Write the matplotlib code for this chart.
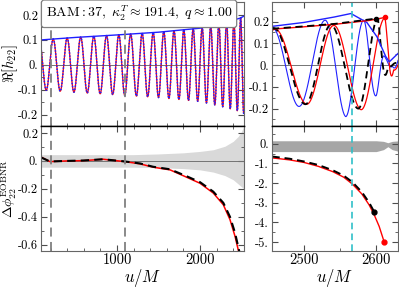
import numpy as np
import matplotlib
matplotlib.use("Agg")
import matplotlib.pyplot as plt
from matplotlib.ticker import FixedLocator, FixedFormatter

plt.rcParams['mathtext.fontset'] = 'cm'
plt.rcParams['font.family'] = ['cmr10', 'DejaVu Serif']
plt.rcParams['axes.unicode_minus'] = False
plt.rcParams['axes.formatter.use_mathtext'] = True

# ---------------- data ----------------
# left top: waveform peak times and amplitude envelope
left_peaks_u = [64, 232, 400, 563, 721, 874, 1022, 1165, 1303, 1436, 1564, 1687,
                1805, 1918, 2026, 2129, 2227, 2320, 2408, 2490, 2562]
left_env_u = [85, 500, 1000, 1500, 2000, 2240, 2360, 2480, 2535]
left_env_a = [0.100, 0.110, 0.120, 0.131, 0.147, 0.165, 0.176, 0.187, 0.196]

# left bottom: phase difference (red, black dashed) and error band
dphi_u = [85, 193, 400, 594, 835, 1096, 1277, 1437, 1639, 1840, 2000, 2160, 2281, 2361, 2422, 2470]
dphi_red = [0.028, -0.005, 0.000, 0.002, 0.012, -0.005, -0.021, -0.045, -0.064, -0.117,
            -0.160, -0.230, -0.314, -0.420, -0.540, -0.660]
dphi_blk_u = [85, 193, 400, 594, 835, 1096, 1277, 1437, 1639, 1840, 2000, 2160, 2281, 2361, 2422, 2478]
dphi_blk = [0.025, -0.004, 0.000, 0.003, 0.012, -0.004, -0.018, -0.042, -0.060, -0.110,
            -0.152, -0.220, -0.300, -0.400, -0.515, -0.660]
band_u = [85, 1200, 1500, 1800, 2000, 2160, 2300, 2400, 2460, 2500, 2535]
band_hi = [0.045, 0.045, 0.050, 0.058, 0.068, 0.080, 0.105, 0.140, 0.175, 0.210, 0.260]
band_lo = [-0.045, -0.045, -0.048, -0.055, -0.064, -0.080, -0.105, -0.135, -0.165, -0.185, -0.205]
fit_window = [200, 1100]

# right top: extrema (times, signed values) and envelopes
red_ext_u = [2418, 2460, 2504, 2541, 2579, 2612, 2624, 2636]
red_ext_v = [-0.16, 0.165, -0.180, 0.182, -0.205, 0.217, -0.022, 0.040]
blk_ext_u = [2416, 2458, 2502, 2537, 2575, 2602, 2616, 2628]
blk_ext_v = [-0.16, 0.170, -0.180, 0.185, -0.200, 0.214, -0.015, 0.010]
blu_ext_u = [2420, 2456, 2493, 2529, 2558, 2583, 2600, 2613, 2622, 2634]
blu_ext_v = [-0.17, 0.172, -0.190, 0.206, -0.237, 0.206, -0.140, 0.030, -0.005, 0.060]
red_env_u = [2456, 2500, 2544, 2590, 2612]
red_env_v = [0.165, 0.176, 0.188, 0.205, 0.219]
blk_env_u = [2456, 2500, 2544, 2600]
blk_env_v = [0.167, 0.178, 0.190, 0.214]
blu_env_u = [2456, 2500, 2542, 2565, 2587, 2601, 2613, 2618, 2632]
blu_env_v = [0.178, 0.196, 0.221, 0.237, 0.196, 0.130, 0.040, 0.015, 0.060]

# right bottom: phase difference near merger
rb_red_u = [2456, 2480, 2500, 2520, 2540, 2555, 2567, 2580, 2590, 2597, 2604, 2611]
rb_red_v = [-0.72, -0.82, -0.95, -1.15, -1.42, -1.70, -2.05, -2.55, -3.10, -3.60, -4.20, -5.00]
rb_blk_u = [2456, 2480, 2500, 2520, 2540, 2555, 2567, 2580, 2590, 2597]
rb_blk_v = [-0.65, -0.76, -0.90, -1.08, -1.35, -1.62, -1.95, -2.45, -2.98, -3.45]
rb_band_u = [2456, 2500, 2550, 2600, 2610, 2616, 2622, 2632]
rb_band_hi = [0.15, 0.15, 0.15, 0.15, 0.12, 0.05, 0.12, 0.15]
rb_band_lo = [-0.40, -0.40, -0.40, -0.40, -0.30, -0.15, -0.30, -0.40]
merger_line_u = 2567

# ---------------- figure ----------------
W, H = 399, 288
fig = plt.figure(figsize=(W / 100, H / 100), dpi=100)

def rect(x0, y0, x1, y1):
    return [x0 / W, 1 - y1 / H, (x1 - x0) / W, (y1 - y0) / H]

axLT = fig.add_axes(rect(41, 2, 244, 126))
axLB = fig.add_axes(rect(41, 126, 244, 251))
axRT = fig.add_axes(rect(272, 2, 398, 126))
axRB = fig.add_axes(rect(272, 126, 398, 251))

GRAYLINE = '0.45'

def wave_from_peaks(u, peaks, env_u, env_a):
    k = np.arange(len(peaks))
    ph = np.interp(u, peaks, 2 * np.pi * k)
    return np.interp(u, env_u, env_a) * np.cos(ph)

def wave_from_ext(u, ext_u, ext_v):
    k = np.arange(len(ext_u))
    ph = np.interp(u, ext_u, np.pi * k)
    amp = np.interp(u, ext_u, np.abs(ext_v))
    sign = np.sign(ext_v[0])
    return sign * amp * np.cos(ph)

# left top
u = np.linspace(85, 2535, 4000)
h = wave_from_peaks(u, left_peaks_u, left_env_u, left_env_a)
axLT.axhline(0, color=GRAYLINE, lw=0.7)
axLT.plot(u, h, color='red', lw=0.9)
axLT.plot(u, h, color='#2020ff', lw=1.1, ls=(0, (1, 1)))
axLT.plot(left_env_u, left_env_a, color='#2020ff', lw=1.0)
axLT.set_xlim(85, 2530)
axLT.set_ylim(-0.245, 0.252)
axLT.text(0.483, 0.905, r'$\mathrm{BAM:37},\ \kappa_2^T\approx 191.4,\ q\approx 1.00$',
          transform=axLT.transAxes, ha='center', va='center', fontsize=10,
          bbox=dict(boxstyle='round,pad=0.3,rounding_size=0.2', fc='white', ec='0.5', lw=0.9),
          zorder=5)

# left bottom
axLB.fill_between(band_u, band_lo, band_hi, color='0.85', lw=0)
axLB.axhline(0, color=GRAYLINE, lw=0.7)
axLB.plot(dphi_u, dphi_red, color='red', lw=1.1)
axLB.plot(dphi_blk_u, dphi_blk, color='black', lw=1.5, ls=(0, (4, 2.5)))
axLB.set_xlim(85, 2530)
axLB.set_ylim(-0.645, 0.25)

for ax in (axLT, axLB):
    for xv in fit_window:
        ax.axvline(xv, color='0.5', lw=1.3, ls=(0, (5, 3)))

# right top
ur = np.linspace(2440, 2640, 3000)
axRT.axhline(0, color=GRAYLINE, lw=0.7)
axRT.plot(ur, wave_from_ext(ur, blu_ext_u, blu_ext_v), color='#2020ff', lw=0.8)
axRT.plot(ur, wave_from_ext(ur, red_ext_u, red_ext_v), color='red', lw=0.9)
axRT.plot(ur, wave_from_ext(ur, blk_ext_u, blk_ext_v), color='black', lw=1.3, ls=(0, (4, 2.5)))
axRT.plot(blu_env_u, blu_env_v, color='#2020ff', lw=1.0)
axRT.plot(red_env_u, red_env_v, color='red', lw=1.0)
axRT.plot(blk_env_u, blk_env_v, color='black', lw=1.3, ls=(0, (4, 2.5)))
axRT.plot(red_env_u[-1], red_env_v[-1], 'o', color='red', ms=3)
axRT.plot(blk_env_u[-1], blk_env_v[-1], 'o', color='black', ms=3)
axRT.set_xlim(2456, 2630)
axRT.set_ylim(-0.28, 0.29)

# right bottom
axRB.fill_between(rb_band_u, rb_band_lo, rb_band_hi, color='0.65', lw=0)
axRB.plot(rb_red_u, rb_red_v, color='red', lw=1.0)
axRB.plot(rb_blk_u, rb_blk_v, color='black', lw=1.4, ls=(0, (4, 2.5)))
axRB.plot(rb_red_u[-1], rb_red_v[-1], 'o', color='red', ms=3.5)
axRB.plot(rb_blk_u[-1], rb_blk_v[-1], 'o', color='black', ms=3.5)
axRB.set_xlim(2456, 2630)
axRB.set_ylim(-5.45, 0.9)

for ax in (axRT, axRB):
    ax.axvline(merger_line_u, color='#30c0c8', lw=1.2, ls=(0, (4, 2.5)))

# ---------------- ticks / frames ----------------
def fmt(v, nd):
    if abs(v) < 1e-12:
        return '0.'
    if nd == 0:
        return f'{v:.0f}.'
    return f'{v:.{nd}f}'

def style(ax, yt, nd, xmaj, xmin, ymin, xlabels):
    ax.yaxis.set_major_locator(FixedLocator(yt))
    ax.yaxis.set_major_formatter(FixedFormatter([fmt(v, nd) for v in yt]))
    ax.yaxis.set_minor_locator(FixedLocator(ymin))
    ax.xaxis.set_major_locator(FixedLocator(xmaj))
    ax.xaxis.set_minor_locator(FixedLocator(xmin))
    if xlabels:
        ax.xaxis.set_major_formatter(FixedFormatter(['%d' % v for v in xmaj]))
    else:
        ax.xaxis.set_major_formatter(FixedFormatter([''] * len(xmaj)))
    ax.tick_params(which='both', direction='in', top=True, right=True, color='0.3',
                   labelsize=9, pad=2)
    ax.tick_params(axis='x', which='both', labelsize=10.5)
    ax.tick_params(which='major', length=4, width=0.8)
    ax.tick_params(which='minor', length=2, width=0.6)
    for s in ax.spines.values():
        s.set_color('0.4')
        s.set_linewidth(0.8)

style(axLT, [-0.2, -0.1, 0.0, 0.1, 0.2], 1, [1000, 2000],
      [200, 400, 600, 800, 1200, 1400, 1600, 1800, 2200, 2400],
      [-0.15, -0.05, 0.05, 0.15], False)
style(axLB, [-0.6, -0.4, -0.2, 0.0, 0.2], 1, [1000, 2000],
      [200, 400, 600, 800, 1200, 1400, 1600, 1800, 2200, 2400],
      [-0.5, -0.3, -0.1, 0.1], True)
style(axRT, [-0.2, -0.1, 0.0, 0.1, 0.2], 1, [2500, 2600], [2550],
      [-0.25, -0.15, -0.05, 0.05, 0.15, 0.25], False)
style(axRB, [-5, -4, -3, -2, -1, 0], 0, [2500, 2600], [2550],
      [-4.5, -3.5, -2.5, -1.5, -0.5, 0.5], True)

for ax in (axLT, axRT):
    ax.spines['bottom'].set_color('black')
    ax.spines['bottom'].set_linewidth(1.0)
for ax in (axLB, axRB):
    ax.spines['top'].set_color('black')
    ax.spines['top'].set_linewidth(1.0)

axLT.set_ylabel(r'$\Re[h_{22}]$', fontsize=10.5)
axLT.yaxis.set_label_coords(-0.105, 0.5)
axLB.set_ylabel(r'$\Delta\phi_{22}^{\rm EOBNR}$', fontsize=10)
axLB.yaxis.set_label_coords(-0.11, 0.5)
axLB.set_xlabel(r'$u/M$', fontsize=12)
axLB.xaxis.set_label_coords(0.5, -0.125)
axRB.set_xlabel(r'$u/M$', fontsize=12)
axRB.xaxis.set_label_coords(0.5, -0.125)

fig.savefig('out.png', dpi=100)
